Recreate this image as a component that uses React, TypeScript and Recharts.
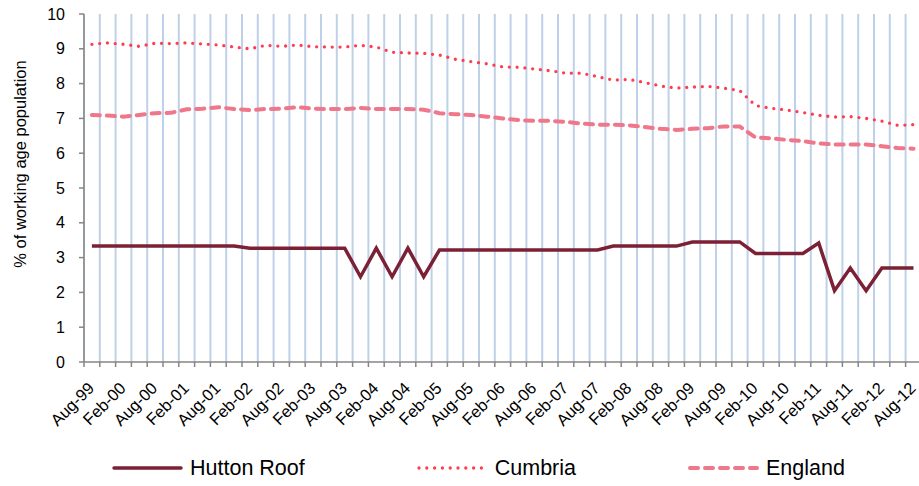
import React from 'react';
import { LineChart, Line, XAxis, YAxis, CartesianGrid, Legend, Label } from 'recharts';

const categories = [
  'Aug-99', 'Nov-99', 'Feb-00', 'May-00', 'Aug-00', 'Nov-00', 'Feb-01', 'May-01', 'Aug-01', 'Nov-01',
  'Feb-02', 'May-02', 'Aug-02', 'Nov-02', 'Feb-03', 'May-03', 'Aug-03', 'Nov-03', 'Feb-04', 'May-04',
  'Aug-04', 'Nov-04', 'Feb-05', 'May-05', 'Aug-05', 'Nov-05', 'Feb-06', 'May-06', 'Aug-06', 'Nov-06',
  'Feb-07', 'May-07', 'Aug-07', 'Nov-07', 'Feb-08', 'May-08', 'Aug-08', 'Nov-08', 'Feb-09', 'May-09',
  'Aug-09', 'Nov-09', 'Feb-10', 'May-10', 'Aug-10', 'Nov-10', 'Feb-11', 'May-11', 'Aug-11', 'Nov-11',
  'Feb-12', 'May-12', 'Aug-12',
];

const huttonRoof = [
  3.33, 3.33, 3.33, 3.33, 3.33, 3.33, 3.33, 3.33, 3.33, 3.33,
  3.27, 3.27, 3.27, 3.27, 3.27, 3.27, 3.27, 2.45, 3.27, 2.45,
  3.27, 2.45, 3.22, 3.22, 3.22, 3.22, 3.22, 3.22, 3.22, 3.22,
  3.22, 3.22, 3.22, 3.33, 3.33, 3.33, 3.33, 3.33, 3.45, 3.45,
  3.45, 3.45, 3.12, 3.12, 3.12, 3.12, 3.42, 2.05, 2.7, 2.05,
  2.7, 2.7, 2.7,
];

const cumbria = [
  9.13, 9.17, 9.13, 9.07, 9.16, 9.15, 9.17, 9.14, 9.11, 9.05,
  9.0, 9.1, 9.07, 9.11, 9.06, 9.05, 9.05, 9.1, 9.05, 8.9,
  8.88, 8.87, 8.82, 8.7, 8.63, 8.57, 8.48, 8.47, 8.42, 8.37,
  8.3, 8.3, 8.2, 8.1, 8.12, 8.03, 7.93, 7.87, 7.9, 7.92,
  7.87, 7.8, 7.37, 7.29, 7.24, 7.17, 7.09, 7.04, 7.05, 7.0,
  6.92, 6.8, 6.82,
];

const england = [
  7.1, 7.08, 7.05, 7.1, 7.15, 7.16, 7.26, 7.28, 7.32, 7.27,
  7.24, 7.27, 7.28, 7.32, 7.28, 7.27, 7.27, 7.3, 7.27, 7.27,
  7.27, 7.25, 7.15, 7.12, 7.1, 7.05, 7.0, 6.95, 6.93, 6.93,
  6.9, 6.85, 6.82, 6.82, 6.8, 6.75, 6.7, 6.67, 6.7, 6.72,
  6.77, 6.77, 6.45, 6.43, 6.38, 6.35, 6.28, 6.25, 6.25, 6.25,
  6.2, 6.15, 6.13,
];

const yTicks = [0, 1, 2, 3, 4, 5, 6, 7, 8, 9, 10];

const series = [
  { key: 'hutton', name: 'Hutton Roof', color: '#7b2035', width: 3.5, dash: undefined as string | undefined },
  { key: 'cumbria', name: 'Cumbria', color: '#ff3d4f', width: 3.3, dash: '0 7.8' },
  { key: 'england', name: 'England', color: '#f0768a', width: 4, dash: '8 7' },
];

const data = categories.map((label, i) => ({
  idx: i,
  label,
  hutton: huttonRoof[i],
  cumbria: cumbria[i],
  england: england[i],
}));

// tick marks and grid sit between categories, labels on every second category
const boundaryTicks = [-0.5, ...categories.map((_, i) => i + 0.5)];
const labelTicks = categories.map((_, i) => i).filter((i) => i % 2 === 0);
const xDomain = [-0.5, categories.length - 0.5];

const renderLegend = () => (
  <div
    style={{
      display: 'flex',
      alignItems: 'center',
      height: 30,
      paddingLeft: 112,
      fontSize: 21.5,
      color: '#000',
      whiteSpace: 'nowrap',
    }}
  >
    {series.map((s) => (
      <div key={s.key} style={{ display: 'flex', alignItems: 'center', flexShrink: 0, marginRight: 112 }}>
        <svg width={71} height={10} style={{ flexShrink: 0 }}>
          <line x1={2} y1={5} x2={69} y2={5} stroke={s.color} strokeWidth={s.width} strokeDasharray={s.dash} strokeLinecap="round" />
        </svg>
        <span style={{ marginLeft: 7 }}>{s.name}</span>
      </div>
    ))}
  </div>
);

const AxisTitle = () => (
  <text x={20} y={164} transform="rotate(-90 20 164)" textAnchor="middle" dominantBaseline="central" fontSize={16.5} fill="#000">
    % of working age population
  </text>
);

const NoLabel = () => <g />;

const App: React.FC = () => {
  return (
    <div
      style={{
        position: 'fixed',
        left: 0,
        top: 0,
        width: 919,
        height: 486,
        overflow: 'hidden',
        background: '#fff',
        fontFamily: '"Liberation Sans", Arial, sans-serif',
      }}
    >
      <LineChart width={930} height={486} data={data} margin={{ top: 14, right: 8.6, bottom: 3, left: 10 }}>
        <CartesianGrid xAxisId="grid" horizontal={false} stroke="#bfd1e8" strokeWidth={2} />
        <XAxis
          xAxisId="grid"
          dataKey="idx"
          type="number"
          domain={xDomain}
          ticks={boundaryTicks}
          interval={0}
          allowDataOverflow
          tick={<NoLabel />}
          tickSize={5}
          height={1}
          axisLine={{ stroke: '#868686', strokeWidth: 1.5 }}
          tickLine={{ stroke: '#868686', strokeWidth: 1.5 }}
        />
        <XAxis
          xAxisId="lbl"
          dataKey="idx"
          type="number"
          domain={xDomain}
          ticks={labelTicks}
          interval={0}
          allowDataOverflow
          tickFormatter={(v: number) => categories[v]}
          axisLine={false}
          tickLine={false}
          tickSize={0}
          tickMargin={18}
          height={90}
          angle={-45}
          textAnchor="end"
          tick={{ fill: '#000', fontSize: 16.5, dx: -5 }}
        />
        <YAxis
          type="number"
          domain={[0, 10]}
          ticks={yTicks}
          interval={0}
          width={74}
          tickSize={5}
          tickMargin={14}
          axisLine={{ stroke: '#868686', strokeWidth: 1.5 }}
          tickLine={{ stroke: '#868686', strokeWidth: 1.5 }}
          tick={{ fill: '#000', fontSize: 16 }}
        >
          <Label content={<AxisTitle />} />
        </YAxis>
        {series.map((s) => (
          <Line
            key={s.key}
            xAxisId="grid"
            type="linear"
            dataKey={s.key}
            name={s.name}
            stroke={s.color}
            strokeWidth={s.width}
            strokeDasharray={s.dash}
            strokeLinecap={s.dash ? 'round' : 'butt'}
            dot={false}
            activeDot={false}
            isAnimationActive={false}
          />
        ))}
        <Legend verticalAlign="bottom" content={renderLegend} wrapperStyle={{ left: 0, width: 919 }} />
      </LineChart>
    </div>
  );
};

export default App;
